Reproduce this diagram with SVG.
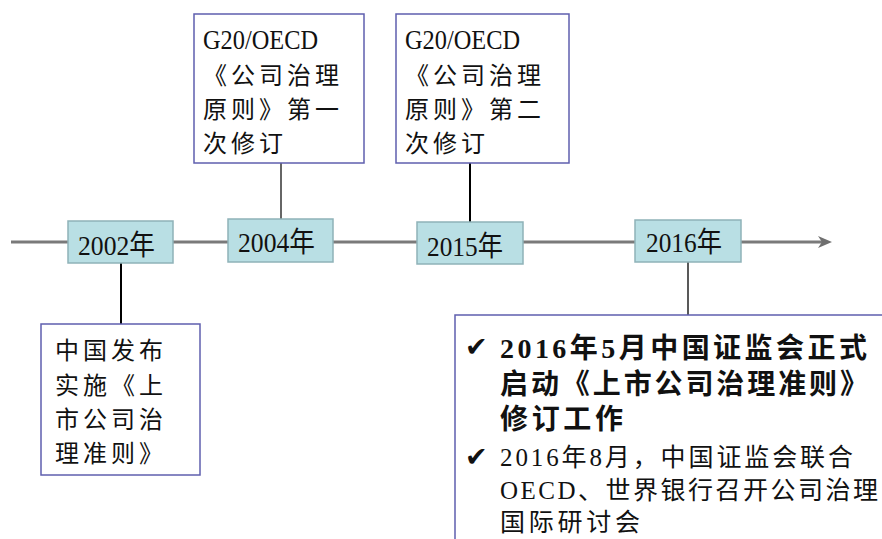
<svg xmlns="http://www.w3.org/2000/svg" width="882" height="539" viewBox="0 0 882 539">
<style>
  .t { font-family: "Liberation Serif", "Noto Sans CJK SC", serif; fill: #111; }
  .yr { font-size: 28px; }
  .box { fill: #ffffff; stroke: #5f5fae; stroke-width: 1.5; }
  .ybox { fill: #b9dfe4; stroke: #8fb2b8; stroke-width: 1.5; }
  .note { font-size: 24px; letter-spacing: 4px; }
  .lat { font-size: 27px; letter-spacing: 0; }
  .b1 { font-size: 28px; font-weight: bold; }
  .b2 { font-size: 25px; }
  .chk { font-family: "DejaVu Sans", sans-serif; font-size: 27px; fill: #111; }
</style>
<defs>
  <marker id="arr" viewBox="0 0 16 14" refX="8" refY="7" markerWidth="16" markerHeight="14" markerUnits="userSpaceOnUse" orient="auto">
    <path d="M0,1 L14,7 L0,13 L4,7 Z" fill="#6f6f6f"/>
  </marker>
</defs>
<g id="connectors">
  <line x1="11" y1="242" x2="826" y2="242" stroke="#7a7a7a" stroke-width="3" marker-end="url(#arr)"/>
  <line x1="121" y1="263" x2="121" y2="324" stroke="#000" stroke-width="2"/>
  <line x1="281" y1="163" x2="281" y2="219" stroke="#333" stroke-width="1.5"/>
  <line x1="470" y1="163" x2="470" y2="222" stroke="#000" stroke-width="2"/>
  <line x1="688" y1="262" x2="688" y2="315" stroke="#222" stroke-width="1.5"/>
</g>
<g id="y2002">
  <rect class="ybox" x="68" y="221" width="105" height="42"/>
  <text class="t yr" x="78" y="255" textLength="77" lengthAdjust="spacingAndGlyphs">2002年</text>
</g>
<g id="y2004">
  <rect class="ybox" x="228" y="219" width="105" height="43"/>
  <text class="t yr" x="238" y="252" textLength="77" lengthAdjust="spacingAndGlyphs">2004年</text>
</g>
<g id="y2015">
  <rect class="ybox" x="417" y="222" width="106" height="42"/>
  <text class="t yr" x="427" y="256" textLength="76" lengthAdjust="spacingAndGlyphs">2015年</text>
</g>
<g id="y2016">
  <rect class="ybox" x="635" y="220" width="106" height="42"/>
  <text class="t yr" x="646" y="252" textLength="76" lengthAdjust="spacingAndGlyphs">2016年</text>
</g>
<g id="oecd1">
  <rect class="box" x="194" y="14" width="170" height="149"/>
  <text class="t lat" x="203" y="49" textLength="115" lengthAdjust="spacingAndGlyphs">G20/OECD</text>
  <text class="t note" x="203" y="84">《公司治理</text>
  <text class="t note" x="203" y="118">原则》第一</text>
  <text class="t note" x="203" y="152">次修订</text>
</g>
<g id="oecd2">
  <rect class="box" x="396" y="14" width="173" height="149"/>
  <text class="t lat" x="405" y="49" textLength="115" lengthAdjust="spacingAndGlyphs">G20/OECD</text>
  <text class="t note" x="405" y="84">《公司治理</text>
  <text class="t note" x="405" y="118">原则》第二</text>
  <text class="t note" x="405" y="152">次修订</text>
</g>
<g id="china2002">
  <rect class="box" x="41" y="324" width="159" height="151"/>
  <text class="t note" x="55" y="359">中国发布</text>
  <text class="t note" x="55" y="394">实施《上</text>
  <text class="t note" x="55" y="428">市公司治</text>
  <text class="t note" x="55" y="462">理准则》</text>
</g>
<g id="csrc2016">
  <rect class="box" x="455" y="315" width="440" height="240"/>
  <text class="chk" x="465" y="356">✔</text>
  <text class="t b1" x="500" y="358" textLength="367" lengthAdjust="spacing">2016年5月中国证监会正式</text>
  <text class="t b1" x="500" y="394" textLength="368" lengthAdjust="spacing">启动《上市公司治理准则》</text>
  <text class="t b1" x="500" y="429" textLength="123" lengthAdjust="spacing">修订工作</text>
  <text class="chk" x="465" y="466">✔</text>
  <text class="t b2" x="500" y="466" textLength="353" lengthAdjust="spacing">2016年8月，中国证监会联合</text>
  <text class="t b2" x="500" y="499" textLength="378" lengthAdjust="spacing">OECD、世界银行召开公司治理</text>
  <text class="t b2" x="500" y="531" textLength="140" lengthAdjust="spacing">国际研讨会</text>
</g>
</svg>
